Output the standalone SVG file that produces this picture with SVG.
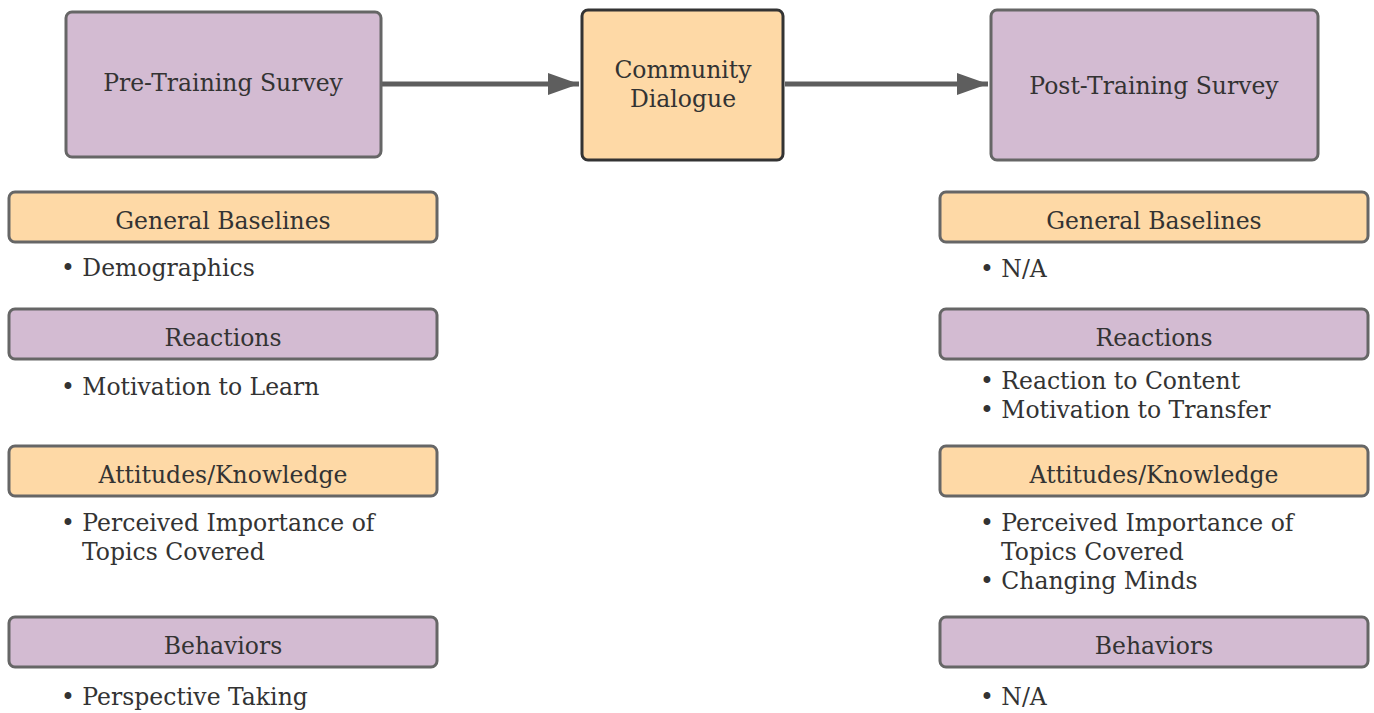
<svg xmlns="http://www.w3.org/2000/svg" width="1374" height="713" viewBox="0 0 1374 713">
<defs>
<marker id="ah" viewBox="0 0 10 10" refX="10" refY="5" markerWidth="6.2" markerHeight="4.4" markerUnits="strokeWidth" orient="auto" preserveAspectRatio="none"><path d="M0,0 L10,5 L0,10 z" fill="#5e5e5e"/></marker>
<style>
text{font-family:"DejaVu Serif","Liberation Serif",serif;fill:#333;}
.main{font-size:23.5px;text-anchor:middle;}
.hdr{font-size:23.5px;text-anchor:middle;}
.item{font-size:23.5px;}
.purple{fill:#d3bbd2;stroke:#666;stroke-width:3;}
.orange{fill:#fed9a6;stroke:#666;stroke-width:3;}
.orangeD{fill:#fed9a6;stroke:#333;stroke-width:3;}
.conn{stroke:#5e5e5e;stroke-width:5;fill:none;}
</style>
</defs>
<rect width="1374" height="713" fill="#fff"/>
<g id="connectors">
<line class="conn" x1="382" y1="84" x2="579" y2="84" marker-end="url(#ah)"/>
<line class="conn" x1="785" y1="84" x2="988" y2="84" marker-end="url(#ah)"/>
</g>
<g id="pre"><rect class="purple" x="66" y="12" width="315" height="145" rx="6"/><text class="main" x="223" y="91">Pre-Training Survey</text></g>
<g id="dialogue"><rect class="orangeD" x="582" y="10" width="201" height="150" rx="6"/><text class="main" x="683" y="78">Community</text><text class="main" x="683" y="107">Dialogue</text></g>
<g id="post"><rect class="purple" x="991" y="10" width="327" height="150" rx="6"/><text class="main" x="1154" y="94">Post-Training Survey</text></g>

<g id="pre-general"><rect class="orange" x="9" y="192" width="428" height="50" rx="6"/><text class="hdr" x="223" y="229">General Baselines</text></g>
<g id="pre-general-items"><text class="item" x="61" y="276">• Demographics</text></g>
<g id="pre-reactions"><rect class="purple" x="9" y="309" width="428" height="50" rx="6"/><text class="hdr" x="223" y="346">Reactions</text></g>
<g id="pre-reactions-items"><text class="item" x="61" y="395">• Motivation to Learn</text></g>
<g id="pre-attitudes"><rect class="orange" x="9" y="446" width="428" height="50" rx="6"/><text class="hdr" x="223" y="483">Attitudes/Knowledge</text></g>
<g id="pre-attitudes-items"><text class="item" x="61" y="531">• Perceived Importance of</text><text class="item" x="82" y="560">Topics Covered</text></g>
<g id="pre-behaviors"><rect class="purple" x="9" y="617" width="428" height="50" rx="6"/><text class="hdr" x="223" y="654">Behaviors</text></g>
<g id="pre-behaviors-items"><text class="item" x="61" y="705">• Perspective Taking</text></g>

<g id="post-general"><rect class="orange" x="940" y="192" width="428" height="50" rx="6"/><text class="hdr" x="1154" y="229">General Baselines</text></g>
<g id="post-general-items"><text class="item" x="980" y="277">• N/A</text></g>
<g id="post-reactions"><rect class="purple" x="940" y="309" width="428" height="50" rx="6"/><text class="hdr" x="1154" y="346">Reactions</text></g>
<g id="post-reactions-items"><text class="item" x="980" y="389">• Reaction to Content</text><text class="item" x="980" y="418">• Motivation to Transfer</text></g>
<g id="post-attitudes"><rect class="orange" x="940" y="446" width="428" height="50" rx="6"/><text class="hdr" x="1154" y="483">Attitudes/Knowledge</text></g>
<g id="post-attitudes-items"><text class="item" x="980" y="531">• Perceived Importance of</text><text class="item" x="1001" y="560">Topics Covered</text><text class="item" x="980" y="589">• Changing Minds</text></g>
<g id="post-behaviors"><rect class="purple" x="940" y="617" width="428" height="50" rx="6"/><text class="hdr" x="1154" y="654">Behaviors</text></g>
<g id="post-behaviors-items"><text class="item" x="980" y="705">• N/A</text></g>
</svg>
